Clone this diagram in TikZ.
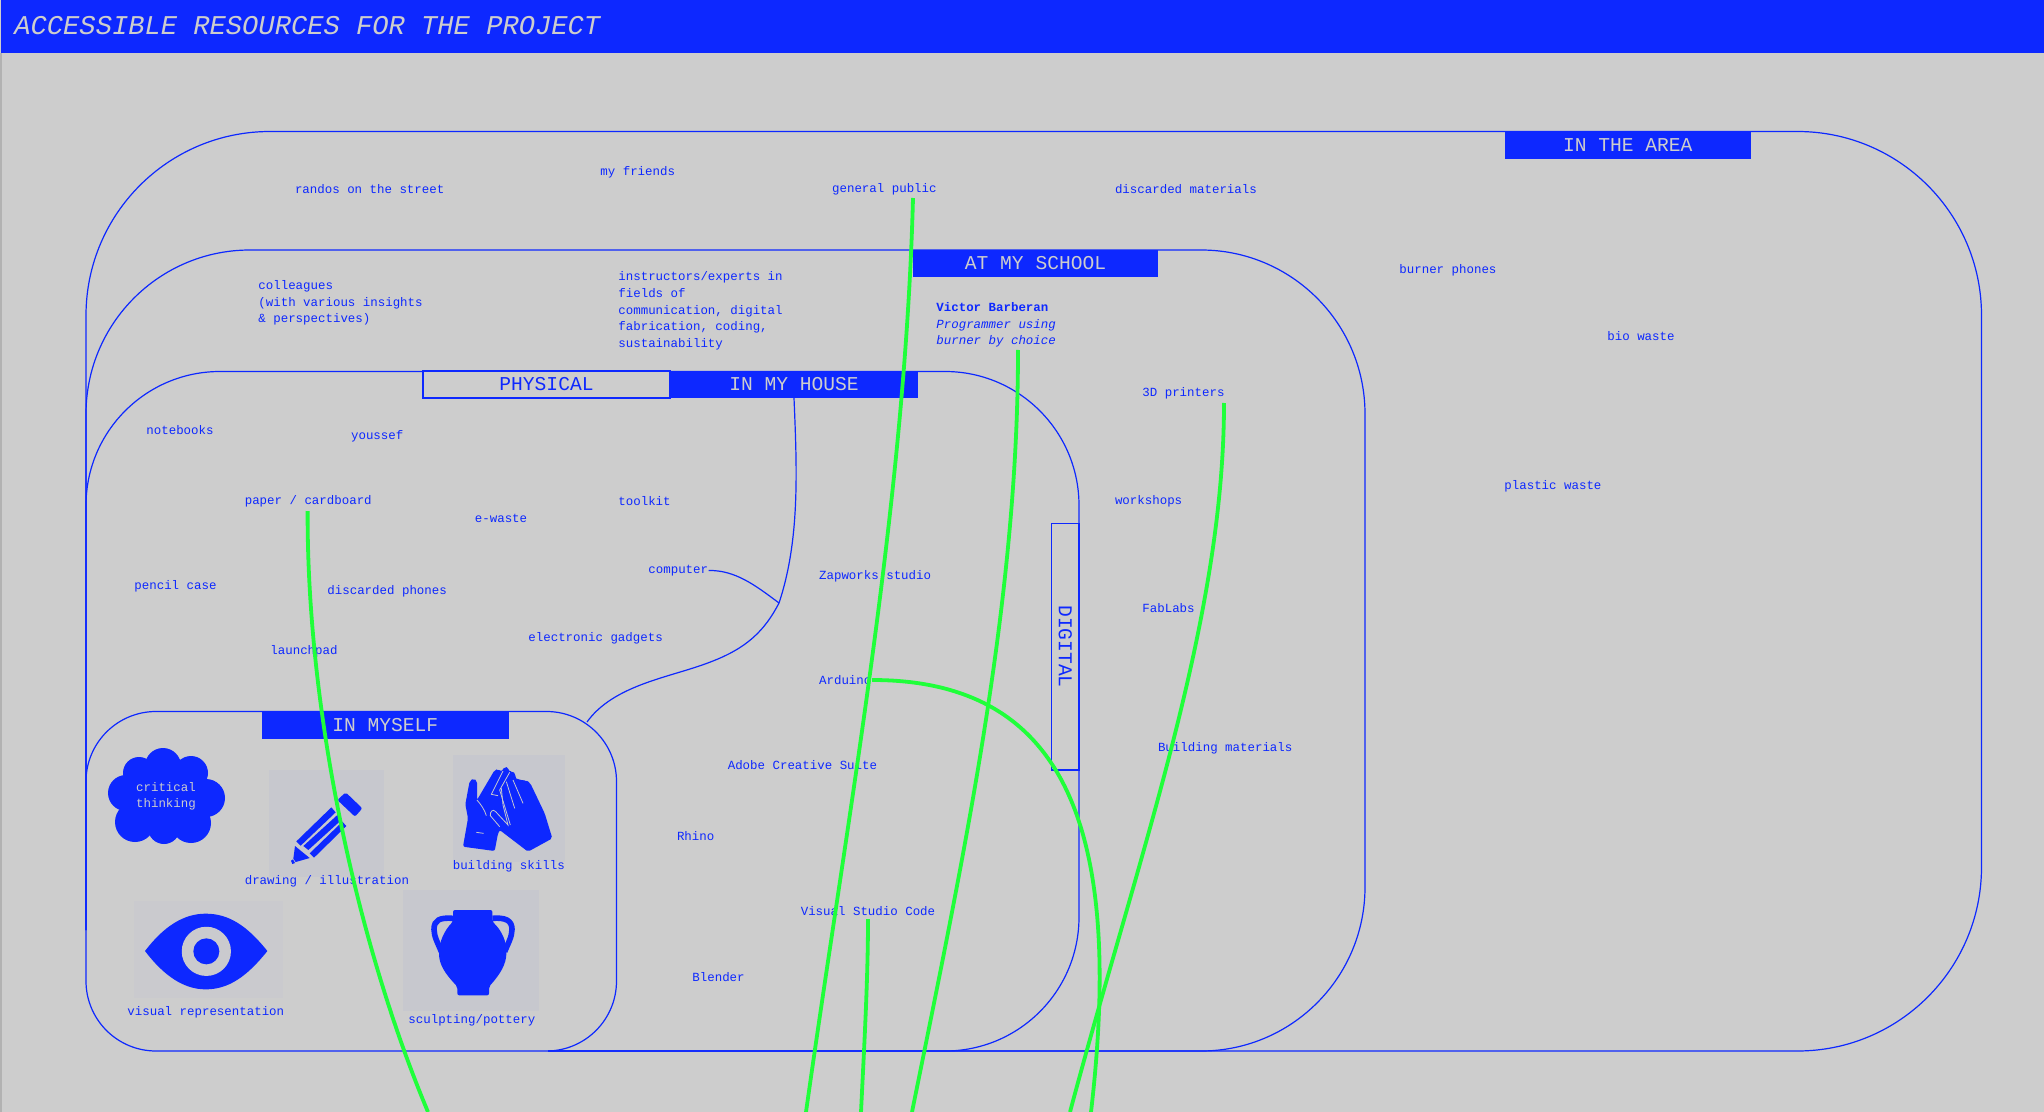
\documentclass[tikz,border=0pt]{standalone}
\usepackage{fontspec}
\setmainfont{Liberation Mono}
\definecolor{planblue}{HTML}{0D28FF}
\definecolor{plangrey}{HTML}{CDCDCD}
\definecolor{plangreen}{HTML}{1FFF3A}
\definecolor{tilegrey}{HTML}{C7C8CE}
\tikzset{
    regionline/.style={draw=planblue, line width=0.6pt},
    greenline/.style={draw=plangreen, line width=1.9pt},
    handline/.style={draw=tilegrey, line width=0.4pt},
    smalllabel/.style={anchor=west, inner sep=0pt, yshift=-0.4pt, text=planblue, align=left, font=\fontsize{6.22}{8.4}\selectfont},
    barbox/.style={fill=planblue, inner sep=0pt, text=plangrey, font=\fontsize{9.8}{12}\selectfont},
    outlinebox/.style={regionline, fill=plangrey, inner sep=0pt, text=planblue, font=\fontsize{9.8}{12}\selectfont}
}

\begin{document}
\begin{tikzpicture}[x=0.5pt, y=-0.5pt]
    \useasboundingbox (0,0) rectangle (2044,1112);
    \fill[plangrey] (0,0) rectangle (2044,1112);
    \fill[black!30] (0,53) rectangle (2,1112);

    %title
    \fill[planblue] (1,0) rectangle (2044,53);
    \node[anchor=west, inner sep=0pt, text=plangrey, font=\fontsize{13.56}{16}\selectfont\itshape] (title) at (14,26) {ACCESSIBLE RESOURCES FOR THE PROJECT};

    %regions
    \draw[regionline, rounded corners=92pt] (86,930) -- (86,131.5) -- (1981.5,131.5) -- (1981.5,1051) -- (548,1051);
    \draw[regionline, rounded corners=82pt] (86,930) -- (86,250) -- (1365,250) -- (1365,1051) -- (548,1051);
    \draw[regionline, rounded corners=67pt] (86,930) -- (86,371.5) -- (1079,371.5) -- (1079,1051) -- (548,1051);
    \draw[regionline, rounded corners=35pt] (86,711.5) rectangle (616.5,1051);

    %split between physical and digital
    \coordinate (splittop) at (794,398);
    \coordinate (splitknee) at (779,603);
    \coordinate (splitend) at (587,722);
    \draw[regionline] (splittop) .. controls (797,470) and (800,540) .. (splitknee)
        .. controls (760,640) and (735,655) .. (690,669) .. controls (655,680) and (610,690) .. (splitend);

    %header bars
    \node[barbox, minimum width=122.8pt, minimum height=13.7pt] (area) at (1627.8,145) {IN THE AREA};
    \node[barbox, minimum width=122.5pt, minimum height=13.8pt] (school) at (1035.5,263.5) {AT MY SCHOOL};
    \node[outlinebox, minimum width=123.5pt, minimum height=13.5pt] (physical) at (546.5,384.5) {PHYSICAL};
    \node[barbox, minimum width=124pt, minimum height=13.5pt] (house) at (794,384.5) {IN MY HOUSE};
    \node[barbox, minimum width=123.7pt, minimum height=14pt] (myself) at (385.3,725) {IN MYSELF};
    \node[outlinebox, rotate=-90, minimum width=123.4pt, minimum height=13.7pt] (digital) at (1065.3,646.5) {DIGITAL};

    %tiles behind the icons
    \fill[tilegrey] (269,770) rectangle (384,877);
    \fill[tilegrey] (453,755) rectangle (565,862);
    \fill[tilegrey!50!plangrey] (134,901) rectangle (283,998);
    \fill[tilegrey] (403,890) rectangle (539,1011);

    %labels
    \foreach \x/\y/\name/\txt in {
        600/171/friends/{my friends},
        294.6/188/randos/{randos on the street},
        831.7/188/public/{general public},
        1114.6/188/discarded/{discarded materials},
        1399/269/burners/{burner phones},
        1607/335.7/biowaste/{bio waste},
        1504/485/plastic/{plastic waste},
        1142/392.4/printers/{3D printers},
        146/429/notebooks/{notebooks},
        350.7/435.4/youssef/{youssef},
        244.4/500.6/paper/{paper / cardboard},
        474.5/517.5/ewaste/{e-waste},
        618/500.6/toolkit/{toolkit},
        1114.6/500.6/workshops/{workshops},
        134/585/pencilcase/{pencil case},
        327/590.5/phones/{discarded phones},
        648/569.7/computer/{computer},
        818.7/575/zapworks/{Zapworks studio},
        528/637.5/gadgets/{electronic gadgets},
        270/650.5/launchpad/{launchpad},
        1142/607.5/fablabs/{FabLabs},
        818.7/679/arduino/{Arduino},
        1157.6/747/building/{Building materials},
        727.4/764/adobe/{Adobe Creative Suite},
        676.6/835.6/rhino/{Rhino},
        244.4/880.6/drawing/{drawing / illustration},
        452.4/865.6/skills/{building skills},
        800.4/910/vscode/{Visual Studio Code},
        692/976.4/blender/{Blender},
        127/1011/visual/{visual representation},
        408/1019/pottery/{sculpting/pottery}}
        \node[smalllabel] (\name) at (\x,\y) {\txt};

    \node[smalllabel] (colleagues) at (258,302) {colleagues\\(with various insights\\\& perspectives)};
    \node[smalllabel] (instructors) at (618,310) {instructors/experts in\\fields of\\communication, digital\\fabrication, coding,\\sustainability};
    \node[smalllabel] (victor) at (936,324) {\textbf{Victor Barberan}\\\textit{Programmer using}\\\textit{burner by choice}};

    \draw[regionline] (computer.east) .. controls (735,570) and (755,585) .. (splitknee);

    %cloud
    \foreach \x/\y/\r in {163/766/18, 139/773/16, 191/773/17, 126/793/18, 206/798/19, 135/822/20, 191/823/20, 164/828/16, 166/797/40}
        \fill[planblue] (\x,\y) circle[radius=\r*0.5pt];
    \node[inner sep=0pt, align=center, text=plangrey, font=\fontsize{6.22}{8.2}\selectfont] (critical) at (166,796) {critical\\thinking};

    %pencil
    \begin{scope}[shift={(269,770)}, x=0.1667pt, y=-0.1667pt]
        \fill[planblue, rounded corners=1pt] (230,67) -- (280,115) -- (258,140) -- (205,90) -- cycle;
        \fill[planblue] (187,112) -- (200,127) -- (95,227) -- (82,214) -- cycle;
        \fill[planblue] (205,135) -- (217,150) -- (118,240) -- (103,228) -- cycle;
        \fill[planblue] (220,155) -- (232,168) -- (135,263) -- (122,250) -- cycle;
        \fill[planblue] (78,228) -- (122,264) -- (80,276) -- (73,266) -- cycle;
        \fill[planblue] (66,272) -- (72,268) -- (78,279) -- (70,282) -- cycle;
    \end{scope}

    %hands
    \begin{scope}[shift={(453,755)}, x=0.1667pt, y=-0.1667pt]
        \fill[planblue, rounded corners=1pt] (30,275) -- (45,190) -- (37,148) -- (50,78) -- (62,70) -- (72,78) -- (72,135)
            -- (125,45) -- (135,42) -- (145,50) -- (155,35) -- (167,38) -- (168,50) -- (178,48) -- (188,58) -- (188,72)
            -- (200,72) -- (210,78) -- (220,75) -- (232,85) -- (275,175) -- (298,250) -- (225,290) -- (140,225) -- (135,235) -- (125,288) -- cycle;
        \draw[handline] (72,135) .. controls (85,150) and (95,165) .. (100,182);
        \draw[handline] (140,215) -- (112,182) .. controls (110,170) and (120,160) .. (128,170) -- (165,210) -- (150,150) -- (145,100);
        \draw[handline] (150,48) -- (115,118) -- (135,122);
        \draw[handline] (170,52) -- (140,105);
        \draw[handline] (160,80) -- (185,160);
        \draw[handline] (180,75) -- (210,145);
        \draw[handline] (140,105) -- (172,210);
        \draw[handline] (70,232) -- (92,235);
    \end{scope}

    %eye
    \begin{scope}[shift={(134,901)}, x=0.1667pt, y=-0.1667pt]
        \fill[planblue] (33,150) .. controls (90,75) and (150,38) .. (215,38) .. controls (285,38) and (340,75) .. (400,150)
            .. controls (340,225) and (285,265) .. (215,265) .. controls (150,265) and (90,225) .. (33,150) -- cycle;
        \fill[tilegrey!50!plangrey] (217,151) circle[radius=12.3pt];
        \fill[planblue] (217,151) circle[radius=6.5pt];
    \end{scope}

    %vase
    \begin{scope}[shift={(403,890)}, x=0.1667pt, y=-0.1667pt]
        \draw[planblue, line width=2.8pt] (150,85) .. controls (110,82) and (93,90) .. (93,118) .. controls (93,140) and (105,160) .. (115,185);
        \draw[planblue, line width=2.8pt] (268,85) .. controls (305,82) and (327,90) .. (327,118) .. controls (327,140) and (315,160) .. (305,185);
        \fill[planblue, rounded corners=1pt] (150,60) -- (268,60) -- (268,95) .. controls (295,120) and (312,155) .. (310,195)
            .. controls (305,235) and (280,265) .. (258,290) -- (258,316) -- (163,316) -- (163,290)
            .. controls (140,265) and (112,235) .. (108,195) .. controls (108,155) and (125,120) .. (150,95) -- cycle;
    \end{scope}

    %green threads
    \coordinate (publicfoot) at (913,198);
    \coordinate (publicend) at (806,1112);
    \coordinate (victorfoot) at (1018,350);
    \coordinate (victorend) at (912,1112);
    \coordinate (printerfoot) at (1224,403);
    \coordinate (printerend) at (1070,1112);
    \coordinate (arduinofoot) at (872,680);
    \coordinate (arduinoend) at (1091,1112);
    \coordinate (vscodefoot) at (868,919);
    \coordinate (vscodeend) at (861,1112);
    \coordinate (paperfoot) at (307.6,511);
    \coordinate (paperend) at (428,1112);
    \begin{scope}
        \clip (0,0) rectangle (2044,1112);
        \draw[greenline] (publicfoot) .. controls (905,500) and (850,800) .. (publicend);
        \draw[greenline] (victorfoot) .. controls (1018,600) and (965,850) .. (victorend);
        \draw[greenline] (printerfoot) .. controls (1224,620) and (1140,850) .. (printerend);
        \draw[greenline] (arduinofoot) .. controls (1060,680) and (1125,820) .. (arduinoend);
        \draw[greenline] (vscodefoot) .. controls (868,980) and (864,1050) .. (vscodeend);
        \draw[greenline] (paperfoot) .. controls (307,720) and (360,950) .. (paperend);
    \end{scope}
\end{tikzpicture}
\end{document}
